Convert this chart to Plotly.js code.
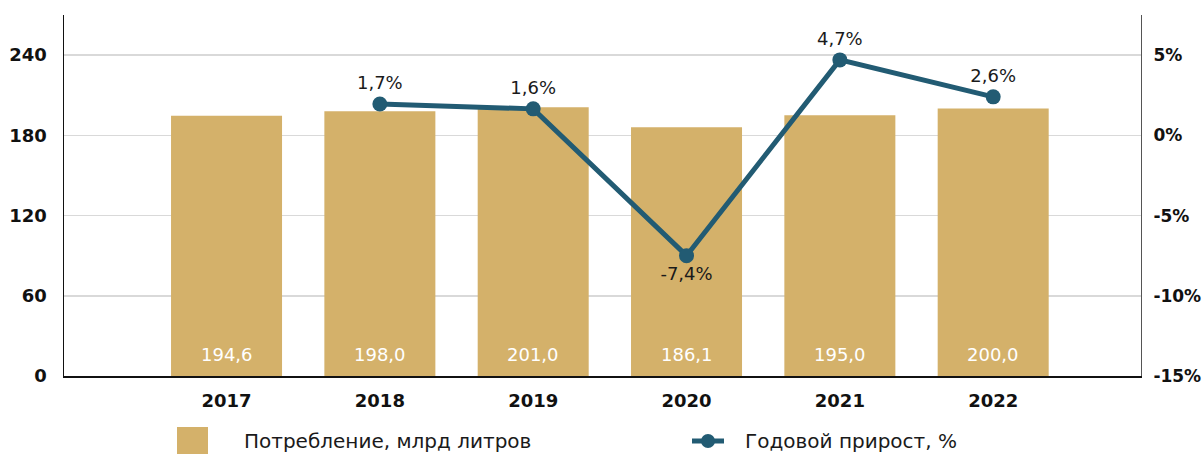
<!DOCTYPE html>
<html>
<head>
<meta charset="utf-8">
<script src="https://cdn.plot.ly/plotly-3.0.1.min.js"></script>
<style>html,body{margin:0;padding:0;background:#fff;}#chart{width:1204px;height:454px;}</style>
</head>
<body>
<div id="chart"></div>
<script>
// Data
const years = ['2017', '2018', '2019', '2020', '2021', '2022'];
const consumption = [194.6, 198.0, 201.0, 186.1, 195.0, 200.0];
const consumptionLabels = ['194,6', '198,0', '201,0', '186,1', '195,0', '200,0'];
const growth = [null, 1.95, 1.65, -7.5, 4.7, 2.4];
const growthLabels = ['', '1,7%', '1,6%', '-7,4%', '4,7%', '2,6%'];
const leftTicks = [0, 60, 120, 180, 240];
const rightTicks = [-15, -10, -5, 0, 5];
const rightTickText = ['-15%', '-10%', '-5%', '0%', '5%'];
const legendNames = ['Потребление, млрд литров', 'Годовой прирост, %'];

const FONT = 'DejaVu Sans, sans-serif';
const BAR_COLOR = '#D4B16A';
const LINE_COLOR = '#225B73';

const bars = {
  type: 'bar', x: years, y: consumption, name: legendNames[0],
  marker: {color: BAR_COLOR}, width: 0.724, hoverinfo: 'skip'
};
const line = {
  type: 'scatter', mode: 'lines+markers+text', x: years, y: growth, yaxis: 'y2',
  name: legendNames[1],
  line: {color: LINE_COLOR, width: 5}, marker: {color: LINE_COLOR, size: 15},
  text: growthLabels,
  textposition: growth.map(v => (v !== null && v < 0) ? 'bottom center' : 'top center'),
  textfont: {family: FONT, size: 18, color: '#1a1a1a'},
  cliponaxis: false, hoverinfo: 'skip'
};

const annotations = years.map((yr, i) => ({
  x: i, y: 5, xref: 'x', yref: 'y', text: consumptionLabels[i], showarrow: false,
  yanchor: 'bottom', yshift: 2, font: {family: FONT, size: 18, color: '#ffffff'}
}));
const px2x = p => (p - 64) / 1077;
const px2y = p => (376 - p) / 361;
annotations.push({xref: 'paper', yref: 'paper', x: px2x(242), y: px2y(441), xanchor: 'left', yanchor: 'middle',
  text: legendNames[0], showarrow: false, font: {family: FONT, size: 20, color: '#1a1a1a'}});
annotations.push({xref: 'paper', yref: 'paper', x: px2x(743), y: px2y(441), xanchor: 'left', yanchor: 'middle',
  text: legendNames[1], showarrow: false, font: {family: FONT, size: 20, color: '#1a1a1a'}});

const shapes = [
  {type: 'rect', xref: 'paper', yref: 'paper', x0: px2x(177), x1: px2x(208), y0: px2y(462), y1: px2y(427),
   fillcolor: BAR_COLOR, line: {width: 0}},
  {type: 'line', xref: 'paper', yref: 'paper', x0: px2x(692), x1: px2x(724), y0: px2y(441), y1: px2y(441),
   line: {color: LINE_COLOR, width: 5}},
  {type: 'circle', xref: 'paper', yref: 'paper', x0: px2x(701), x1: px2x(715), y0: px2y(448), y1: px2y(434),
   fillcolor: LINE_COLOR, line: {width: 0}}
];

const layout = {
  width: 1204, height: 454,
  margin: {l: 64, r: 63, t: 15, b: 78, pad: 0},
  paper_bgcolor: '#fff', plot_bgcolor: '#fff',
  showlegend: false,
  font: {family: FONT, color: '#111'},
  xaxis: {
    type: 'category', range: [-1.06, 5.964], showgrid: false, zeroline: false,
    showline: true, linecolor: '#111', linewidth: 1.5, ticks: '',
    tickfont: {family: FONT, size: 18, color: '#111', weight: 'bold'}, ticklabelstandoff: 8
  },
  yaxis: {
    range: [0, 270], tickvals: leftTicks, showgrid: true, gridcolor: '#d9d9d9', gridwidth: 1.5,
    zeroline: false, showline: true, linecolor: '#111', linewidth: 1.5, ticks: '',
    tickfont: {family: FONT, size: 18, color: '#111', weight: 'bold'}, ticklabelstandoff: 12
  },
  yaxis2: {
    overlaying: 'y', side: 'right', range: [-15, 7.5], tickvals: rightTicks, ticktext: rightTickText,
    showgrid: false, zeroline: false, showline: true, linecolor: '#555', linewidth: 1, ticks: '',
    tickfont: {family: FONT, size: 17, color: '#111', weight: 'bold'}, ticklabelstandoff: 8
  },
  annotations: annotations,
  shapes: shapes
};

Plotly.newPlot('chart', [bars, line], layout, {displayModeBar: false, staticPlot: true});
</script>
</body>
</html>
